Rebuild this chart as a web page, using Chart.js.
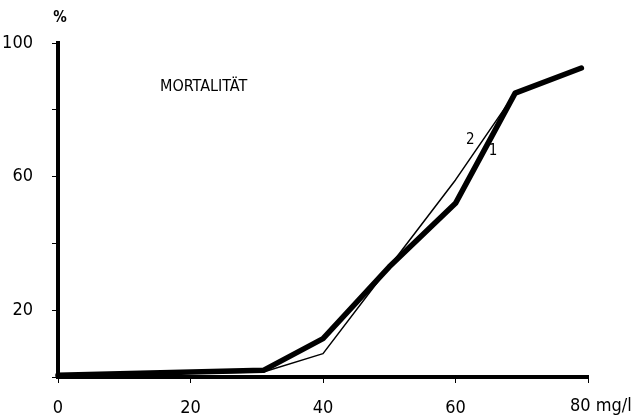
<!DOCTYPE html>
<html>
<head>
<meta charset="utf-8">
<script src="https://cdn.jsdelivr.net/npm/chart.js@4/dist/chart.umd.min.js"></script>
<style>
  html, body { margin: 0; padding: 0; background: #fff; }
  #wrap { width: 637px; height: 419px; }
</style>
</head>
<body>
<div id="wrap"><canvas id="chart" width="637" height="419"></canvas></div>
<script>
/* Data */
const concentrations = [0, 31, 40, 50, 60, 69, 79];
const mortality1 = [0.5, 2, 11.5, 33, 52, 85, 92.5];
const mortality2 = [0.5, 1.5, 7, 33, 59, 85, 92.5];
const yLabels = [20, 60, 100];

const FONT = "'DejaVu Sans Condensed', 'Liberation Sans Narrow', sans-serif";

const toPoints = vals => vals.map((v, i) => ({ x: concentrations[i], y: v }));

/* extra texts: title, unit label at the last tick, curve numbers */
const textPlugin = {
    id: "texts",
    afterDraw(chart) {
        const ctx = chart.ctx;
        const xs = chart.scales.x, ys = chart.scales.y;
        ctx.save();
        ctx.fillStyle = "#000";
        ctx.textBaseline = "middle";
        ctx.textAlign = "center";
        ctx.font = "bold 15px " + FONT;
        ctx.fillText("%", 60, 18);
        ctx.textAlign = "left";
        ctx.font = "16px " + FONT;
        ctx.fillText("MORTALITÄT", 160, 87);
        ctx.font = "18px " + FONT;
        ctx.fillText("80 mg/l", xs.getPixelForValue(80) - 18, 406);
        ctx.font = "15px " + FONT;
        ctx.fillText("2", xs.getPixelForValue(61.6), ys.getPixelForValue(71));
        ctx.fillText("1", xs.getPixelForValue(65), ys.getPixelForValue(67.5));
        ctx.restore();
    }
};

new Chart(document.getElementById("chart"), {
    type: "line",
    data: {
        datasets: [
            { data: toPoints(mortality2), borderColor: "#000", borderWidth: 1.5 },
            { data: toPoints(mortality1), borderColor: "#000", borderWidth: 5.5 }
        ]
    },
    options: {
        responsive: false,
        animation: false,
        layout: { padding: { top: 43, right: 49, left: 0, bottom: 0 } },
        plugins: { legend: { display: false }, tooltip: { enabled: false } },
        elements: {
            point: { radius: 0 },
            line: { tension: 0, borderJoinStyle: "round", borderCapStyle: "round" }
        },
        datasets: { line: { clip: false } },
        scales: {
            x: {
                type: "linear",
                min: 0, max: 80,
                afterFit: s => { s.height = 42; },
                border: { color: "#000", width: 4 },
                grid: { drawOnChartArea: false, drawTicks: true, tickLength: 6, color: "#000", lineWidth: 1 },
                ticks: {
                    stepSize: 20, color: "#000", padding: 15, maxRotation: 0,
                    font: { family: FONT, size: 18 },
                    callback: v => v === 80 ? "" : String(v)
                }
            },
            y: {
                min: 0, max: 100,
                afterFit: s => { s.width = 58; },
                border: { color: "#000", width: 4 },
                grid: { drawOnChartArea: false, drawTicks: true, tickLength: 6, color: "#000", lineWidth: 1 },
                ticks: {
                    stepSize: 20, color: "#000", padding: 19,
                    font: { family: FONT, size: 18 },
                    callback: v => yLabels.includes(v) ? String(v) : ""
                }
            }
        }
    },
    plugins: [textPlugin]
});
</script>
</body>
</html>
